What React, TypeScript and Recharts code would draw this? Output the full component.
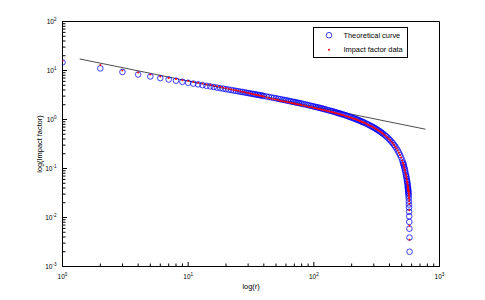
import React from 'react';
import { ScatterChart, Scatter, XAxis, YAxis, Legend, ReferenceArea } from 'recharts';

// rank r of each journal (x values)
const ranks: number[] = [
  1, 2, 3, 4, 5, 6, 7, 8, 9, 10,
  11, 12, 13, 14, 15, 16, 17, 18, 19, 20,
  21, 22, 23, 24, 25, 26, 27, 28, 29, 30,
  31, 32, 33, 34, 35, 36, 37, 38, 39, 40,
  42, 44, 46, 48, 50, 52, 54, 56, 58, 60,
  62, 64, 66, 68, 70, 72, 74, 76, 78, 80,
  83, 86, 89, 92, 95, 98, 101, 104, 107, 110, 113, 116, 119, 122,
  126, 130, 134, 138, 142, 146, 150, 154, 158, 162, 166, 170,
  175, 180, 185, 190, 195, 200, 205, 210, 215, 220, 225, 230, 235, 240, 245, 250,
  257, 264, 271, 278, 285, 292, 299, 306, 313, 320, 327, 334, 341, 348, 355,
  365, 375, 385, 395, 405, 415, 425, 435, 445, 455, 465, 475, 485, 495, 505,
  512, 516, 520, 524, 528, 532, 536, 540,
  543, 546, 549, 552, 554, 556, 558, 560,
  561, 562, 563, 564, 565, 566, 567, 568, 569, 570, 571, 572, 573, 574, 575, 576, 577, 578,
];

// blue circles: theoretical curve
const theoreticalCurve: number[] = [
  14.7, 11.04, 9.34, 8.28, 7.55, 6.99, 6.55, 6.19, 5.89, 5.63,
  5.40, 5.21, 5.03, 4.87, 4.73, 4.60, 4.47, 4.36, 4.26, 4.16,
  4.07, 3.99, 3.91, 3.84, 3.77, 3.70, 3.64, 3.58, 3.52, 3.46,
  3.41, 3.36, 3.31, 3.27, 3.22, 3.18, 3.14, 3.10, 3.06, 3.02,
  2.95, 2.88, 2.82, 2.76, 2.71, 2.65, 2.60, 2.55, 2.51, 2.46,
  2.42, 2.38, 2.34, 2.30, 2.27, 2.23, 2.20, 2.17, 2.14, 2.11,
  2.06, 2.02, 1.98, 1.94, 1.90, 1.87, 1.83, 1.80, 1.77, 1.74, 1.71, 1.68, 1.65, 1.62,
  1.59, 1.55, 1.52, 1.49, 1.46, 1.43, 1.40, 1.37, 1.34, 1.32, 1.29, 1.27,
  1.24, 1.21, 1.18, 1.15, 1.12, 1.10, 1.07, 1.05, 1.02, 1.00, 0.977, 0.955, 0.933, 0.911, 0.890, 0.870,
  0.842, 0.814, 0.788, 0.762, 0.737, 0.712, 0.688, 0.665, 0.641, 0.619, 0.597, 0.575, 0.554, 0.533, 0.513,
  0.485, 0.457, 0.430, 0.403, 0.378, 0.352, 0.328, 0.303, 0.280, 0.256, 0.234, 0.211, 0.189, 0.168, 0.147,
  0.132, 0.124, 0.116, 0.107, 0.099, 0.091, 0.083, 0.075,
  0.0705, 0.0659, 0.0604, 0.0559, 0.0527, 0.0494, 0.0459, 0.0422,
  0.0404, 0.0388, 0.0371, 0.0353, 0.0335, 0.0316, 0.0296, 0.0272, 0.0244, 0.0211, 0.0184, 0.0159, 0.0131, 0.0106, 0.0081, 0.0059, 0.0039, 0.0020,
];

// red dots: impact factor data
const impactFactorData: number[] = [
  15.8, 13.0, 10.0, 9.1, 8.3, 7.5, 7.0, 6.7, 6.3, 6.1,
  5.8, 5.65, 5.4, 5.2, 5.1, 4.9, 4.75, 4.6, 4.5, 4.35,
  4.25, 4.15, 4.0, 3.95, 3.85, 3.78, 3.68, 3.62, 3.53, 3.47,
  3.40, 3.34, 3.28, 3.22, 3.17, 3.12, 3.08, 3.03, 2.99, 2.95,
  2.80, 2.74, 2.65, 2.59, 2.55, 2.49, 2.42, 2.37, 2.33, 2.29,
  2.25, 2.21, 2.18, 2.14, 2.11, 2.07, 2.05, 2.02, 1.99, 1.96,
  1.92, 1.88, 1.84, 1.80, 1.79, 1.75, 1.72, 1.69, 1.66, 1.63, 1.62, 1.59, 1.57, 1.54,
  1.51, 1.47, 1.46, 1.43, 1.40, 1.37, 1.34, 1.33, 1.30, 1.28, 1.25, 1.23,
  1.20, 1.17, 1.15, 1.13, 1.10, 1.08, 1.05, 1.03, 1.01, 0.99, 0.967, 0.945, 0.924, 0.902, 0.881, 0.861,
  0.836, 0.809, 0.784, 0.758, 0.734, 0.709, 0.686, 0.663, 0.640, 0.618, 0.596, 0.574, 0.553, 0.532, 0.512,
  0.484, 0.456, 0.429, 0.402, 0.377, 0.351, 0.327, 0.302, 0.279, 0.255, 0.233, 0.210, 0.188, 0.167, 0.146,
  0.131, 0.123, 0.115, 0.106, 0.098, 0.090, 0.082, 0.075,
  0.070, 0.065, 0.060, 0.055, 0.052, 0.049, 0.046, 0.043,
  0.041, 0.039, 0.038, 0.037, 0.036, 0.035, 0.034, 0.033, 0.031, 0.030, 0.028, 0.026, 0.024, 0.022, 0.019, 0.0140, 0.0068, 0.0035,
];

// fitted power-law line (end points)
const fitLineR: number[] = [1.37, 774];
const fitLineY: number[] = [17.2, 0.633];

const xTickValues: number[] = [
  1, 2, 3, 4, 5, 6, 7, 8, 9,
  10, 20, 30, 40, 50, 60, 70, 80, 90,
  100, 200, 300, 400, 500, 600, 700, 800, 900, 1000,
];
const yTickValues: number[] = [
  0.001, 0.002, 0.003, 0.004, 0.005, 0.006, 0.007, 0.008, 0.009,
  0.01, 0.02, 0.03, 0.04, 0.05, 0.06, 0.07, 0.08, 0.09,
  0.1, 0.2, 0.3, 0.4, 0.5, 0.6, 0.7, 0.8, 0.9,
  1, 2, 3, 4, 5, 6, 7, 8, 9,
  10, 20, 30, 40, 50, 60, 70, 80, 90, 100,
];
const xDomain: [number, number] = [1, 1000];
const yDomain: [number, number] = [0.001, 100];

const titleText = 'Physics';
const xLabelText = 'log(r)';
const yLabelText = 'log(Impact factor)';
const legendNames = ['Theoretical curve', 'Impact factor data'];

const FONT = '"Liberation Sans", Arial, Helvetica, sans-serif';
const BLUE = '#0000ff';
const RED = '#ff0000';

const theoData = ranks.map((r, i) => ({ r, y: theoreticalCurve[i] }));
const impactData = ranks.map((r, i) => ({ r, y: impactFactorData[i] }));
const fitData = fitLineR.map((r, i) => ({ r, y: fitLineY[i] }));

const isMajor = (v: number) => Math.abs(Math.log10(v) - Math.round(Math.log10(v))) < 1e-6;
const expOf = (v: number) => String(Math.round(Math.log10(v)));

const MAJ = 4.5;
const MIN = 3;
const TW = 1;
const FW = 1;

function BottomTick(props: any) {
  const { x, y, payload } = props;
  const v = payload.value;
  const major = isMajor(v);
  return (
    <g>
      <line x1={x} x2={x} y1={y} y2={y - (major ? MAJ : MIN)} stroke="#000" strokeWidth={TW} />
      {major && (
        <text x={x} y={y + 12.5} textAnchor="middle" fontSize={6.5} fill="#000" fontFamily={FONT}>
          <tspan>10</tspan>
          <tspan dy={-3} fontSize={4.6}>{expOf(v)}</tspan>
        </text>
      )}
    </g>
  );
}

function TopTick(props: any) {
  const { x, y, payload } = props;
  const major = isMajor(payload.value);
  return <line x1={x} x2={x} y1={y} y2={y + (major ? MAJ : MIN)} stroke="#000" strokeWidth={TW} />;
}

function LeftTick(props: any) {
  const { x, y, payload } = props;
  const v = payload.value;
  const major = isMajor(v);
  return (
    <g>
      <line x1={x} x2={x + (major ? MAJ : MIN)} y1={y} y2={y} stroke="#000" strokeWidth={TW} />
      {major && (
        <text x={x - 6} y={y + 2.4} textAnchor="end" fontSize={6.5} fill="#000" fontFamily={FONT}>
          <tspan>10</tspan>
          <tspan dy={-3} fontSize={4.6}>{expOf(v)}</tspan>
        </text>
      )}
    </g>
  );
}

function RightTick(props: any) {
  const { x, y, payload } = props;
  const major = isMajor(payload.value);
  return <line x1={x} x2={x - (major ? MAJ : MIN)} y1={y} y2={y} stroke="#000" strokeWidth={TW} />;
}

const OpenCircle = (props: any) => {
  const { cx, cy } = props;
  if (cx == null || cy == null) return <g />;
  return <circle cx={cx} cy={cy} r={2.8} fill="none" stroke={BLUE} strokeWidth={0.75} />;
};

const RedDot = (props: any) => {
  const { cx, cy } = props;
  if (cx == null || cy == null) return <g />;
  return <circle cx={cx} cy={cy} r={1} fill={RED} />;
};

const NoShape = () => <g />;

const LegendBox = () => (
  <svg width={96} height={32} style={{ display: 'block' }}>
    <rect x={0.5} y={0.5} width={94} height={30} fill="#fff" stroke="#000" strokeWidth={FW} />
    <circle cx={16} cy={8.2} r={2.8} fill="none" stroke={BLUE} strokeWidth={0.75} />
    <text x={30.5} y={10.8} fontSize={7.4} fill="#000" fontFamily={FONT}>{legendNames[0]}</text>
    <circle cx={16} cy={22.8} r={1} fill={RED} />
    <text x={30.5} y={25.4} fontSize={7.4} fill="#000" fontFamily={FONT}>{legendNames[1]}</text>
  </svg>
);

const axisLineStyle = { stroke: '#000', strokeWidth: FW };

export default function App() {
  return (
    <div style={{ position: 'absolute', left: 0, top: 0, width: 485, height: 300, background: '#fff' }}>
      <ScatterChart width={485} height={300} margin={{ top: 21.5, right: 45.5, bottom: 0, left: 0 }}>
        <XAxis
          xAxisId="b"
          type="number"
          dataKey="r"
          scale="log"
          domain={xDomain}
          allowDataOverflow
          ticks={xTickValues}
          interval={0}
          height={33.5}
          tickSize={0}
          tickMargin={0}
          tickLine={false}
          axisLine={axisLineStyle}
          tick={<BottomTick />}
          label={{
            content: (p: any) => {
              const vb = p.viewBox;
              return (
                <text x={vb.x + vb.width / 2} y={vb.y + 22} textAnchor="middle" fontSize={7.4} fill="#000" fontFamily={FONT}>
                  {xLabelText}
                </text>
              );
            },
          }}
        />
        <XAxis
          xAxisId="t"
          orientation="top"
          type="number"
          dataKey="r"
          scale="log"
          domain={xDomain}
          allowDataOverflow
          ticks={xTickValues}
          interval={0}
          height={0}
          tickSize={0}
          tickMargin={0}
          tickLine={false}
          axisLine={axisLineStyle}
          tick={<TopTick />}
          label={{
            content: (p: any) => {
              const vb = p.viewBox;
              return (
                <text x={vb.x + vb.width / 2} y={vb.y - 5} textAnchor="middle" fontSize={7.4} fill="#000" fontFamily={FONT}>
                  {titleText}
                </text>
              );
            },
          }}
        />
        <YAxis
          yAxisId="l"
          type="number"
          dataKey="y"
          scale="log"
          domain={yDomain}
          allowDataOverflow
          ticks={yTickValues}
          interval={0}
          width={62.5}
          tickSize={0}
          tickMargin={0}
          tickLine={false}
          axisLine={axisLineStyle}
          tick={<LeftTick />}
          label={{
            content: (p: any) => {
              const vb = p.viewBox;
              const cx = vb.x + 42;
              const cy = vb.y + vb.height / 2;
              return (
                <text x={cx} y={cy} transform={`rotate(-90 ${cx} ${cy})`} textAnchor="middle" fontSize={7.4} fill="#000" fontFamily={FONT}>
                  {yLabelText}
                </text>
              );
            },
          }}
        />
        <YAxis
          yAxisId="r"
          orientation="right"
          type="number"
          dataKey="y"
          scale="log"
          domain={yDomain}
          allowDataOverflow
          ticks={yTickValues}
          interval={0}
          width={0}
          tickSize={0}
          tickMargin={0}
          tickLine={false}
          axisLine={axisLineStyle}
          tick={<RightTick />}
        />
        <ReferenceArea
          xAxisId="b"
          yAxisId="l"
          x1={xDomain[0]}
          x2={xDomain[1]}
          y1={yDomain[0]}
          y2={yDomain[1]}
          fill="none"
          stroke="#000"
          strokeWidth={FW}
          ifOverflow="visible"
        />
        <Scatter
          name="frame"
          xAxisId="t"
          yAxisId="r"
          data={fitData}
          shape={NoShape}
          legendType="none"
          isAnimationActive={false}
        />
        <Scatter
          name="fit"
          xAxisId="b"
          yAxisId="l"
          data={fitData}
          line={{ stroke: '#000', strokeWidth: 0.7 }}
          shape={NoShape}
          legendType="none"
          isAnimationActive={false}
        />
        <Scatter
          name={legendNames[0]}
          xAxisId="b"
          yAxisId="l"
          data={theoData}
          shape={OpenCircle}
          isAnimationActive={false}
        />
        <Scatter
          name={legendNames[1]}
          xAxisId="b"
          yAxisId="l"
          data={impactData}
          shape={RedDot}
          isAnimationActive={false}
        />
        <Legend
          layout="vertical"
          align="center"
          verticalAlign="middle"
          wrapperStyle={{ position: 'absolute', left: 313, top: 27, width: 96, height: 32 }}
          content={() => <LegendBox />}
        />
      </ScatterChart>
    </div>
  );
}
